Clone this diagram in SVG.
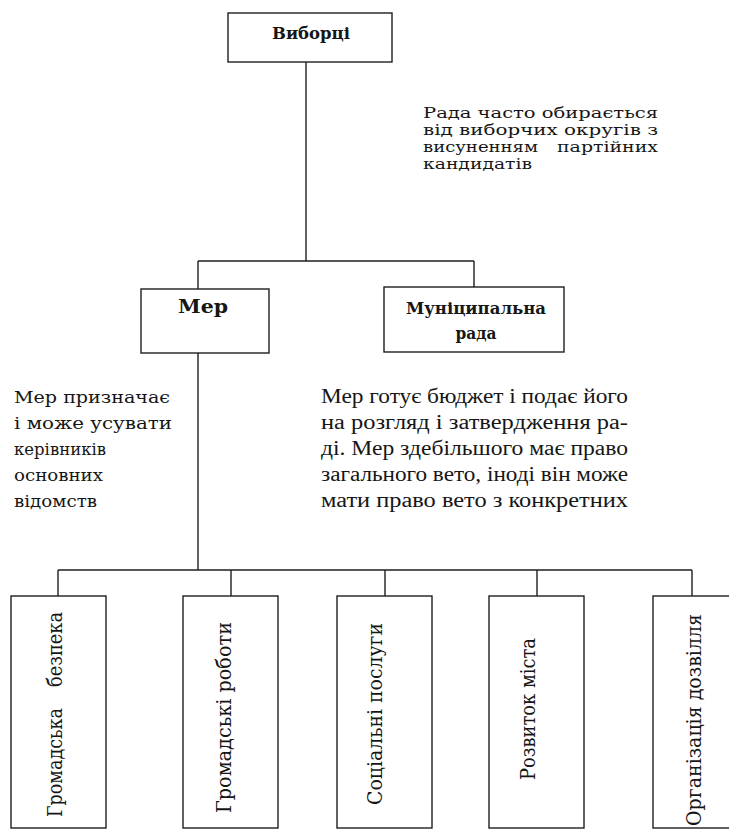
<svg xmlns="http://www.w3.org/2000/svg" width="729" height="830" viewBox="0 0 729 830">
<style>
.box{fill:#fff;stroke:#1e1e1e;stroke-width:1.4}
.ln{stroke:#1e1e1e;stroke-width:1.4;fill:none}
.t{font-family:"DejaVu Serif","Liberation Serif",serif;fill:#161616}
.tb{font-family:"DejaVu Serif","Liberation Serif",serif;font-weight:bold;fill:#161616}
.tr{font-family:"Liberation Serif","DejaVu Serif",serif;fill:#161616}
.v{font-family:"DejaVu Serif","Liberation Serif",serif;fill:#161616;font-size:20px}
</style>
<rect width="729" height="830" fill="#fff"/>
<g id="connectors" class="ln">
<path d="M306,62 V261"/>
<path d="M198,261 H474"/>
<path d="M198,261 V289"/>
<path d="M474,261 V287"/>
<path d="M198,353 V570"/>
<path d="M58,570 H692"/>
<path d="M58,570 V596"/>
<path d="M231,570 V596"/>
<path d="M385,570 V596"/>
<path d="M537,570 V596"/>
<path d="M692,570 V596"/>
</g>
<g id="vybortsi">
<rect class="box" x="228" y="13" width="164" height="49"/>
<text class="tb" x="311" y="39" font-size="17" text-anchor="middle" textLength="78" lengthAdjust="spacingAndGlyphs">Виборці</text>
</g>
<g id="note-rada">
<text class="t" font-size="14" x="423" y="118" textLength="235" lengthAdjust="spacingAndGlyphs">Рада часто обирається</text>
<text class="t" font-size="14" x="423" y="135" textLength="235" lengthAdjust="spacingAndGlyphs">від виборчих округів з</text>
<text class="t" font-size="14" x="423" y="152" textLength="115" lengthAdjust="spacingAndGlyphs">висуненням</text>
<text class="t" font-size="14" x="557" y="152" textLength="101" lengthAdjust="spacingAndGlyphs">партійних</text>
<text class="t" font-size="14" x="423" y="169" textLength="109" lengthAdjust="spacingAndGlyphs">кандидатів</text>
</g>
<g id="mer">
<rect class="box" x="141" y="289" width="128" height="64"/>
<text class="tb" x="203" y="313" font-size="18" text-anchor="middle" textLength="50" lengthAdjust="spacingAndGlyphs">Мер</text>
</g>
<g id="munrada">
<rect class="box" x="384" y="287" width="180" height="65"/>
<text class="tb" x="476" y="314" font-size="17" text-anchor="middle" textLength="140" lengthAdjust="spacingAndGlyphs">Муніципальна</text>
<text class="tb" x="476" y="339" font-size="17" text-anchor="middle" textLength="41" lengthAdjust="spacingAndGlyphs">рада</text>
</g>
<g id="note-mer">
<text class="t" font-size="17" x="14" y="403" textLength="156" lengthAdjust="spacingAndGlyphs">Мер призначає</text>
<text class="t" font-size="17" x="14" y="429" textLength="158" lengthAdjust="spacingAndGlyphs">і може усувати</text>
<text class="t" font-size="17" x="14" y="455" textLength="92" lengthAdjust="spacingAndGlyphs">керівників</text>
<text class="t" font-size="17" x="14" y="481" textLength="89" lengthAdjust="spacingAndGlyphs">основних</text>
<text class="t" font-size="17" x="14" y="507" textLength="83" lengthAdjust="spacingAndGlyphs">відомств</text>
</g>
<g id="note-budget">
<text class="tr" font-size="20" x="321" y="403" textLength="307" lengthAdjust="spacingAndGlyphs">Мер готує бюджет і подає його</text>
<text class="tr" font-size="20" x="321" y="429" textLength="307" lengthAdjust="spacingAndGlyphs">на розгляд і затвердження ра-</text>
<text class="tr" font-size="20" x="321" y="455" textLength="307" lengthAdjust="spacingAndGlyphs">ді. Мер здебільшого має право</text>
<text class="tr" font-size="20" x="321" y="481" textLength="307" lengthAdjust="spacingAndGlyphs">загального вето, іноді він може</text>
<text class="tr" font-size="20" x="321" y="507" textLength="307" lengthAdjust="spacingAndGlyphs">мати право вето з конкретних</text>
</g>
<g id="dept1">
<rect class="box" x="11" y="596" width="95" height="232"/>
<text class="v" transform="translate(62,817) rotate(-90)" textLength="109" lengthAdjust="spacingAndGlyphs">Громадська</text>
<text class="v" transform="translate(62,687) rotate(-90)" textLength="75" lengthAdjust="spacingAndGlyphs">безпека</text>
</g>
<g id="dept2">
<rect class="box" x="183" y="596" width="95" height="232"/>
<text class="v" transform="translate(231,813) rotate(-90)" textLength="191" lengthAdjust="spacingAndGlyphs">Громадські роботи</text>
</g>
<g id="dept3">
<rect class="box" x="337" y="596" width="95" height="232"/>
<text class="v" transform="translate(382,805) rotate(-90)" textLength="182" lengthAdjust="spacingAndGlyphs">Соціальні послуги</text>
</g>
<g id="dept4">
<rect class="box" x="489" y="596" width="95" height="232"/>
<text class="v" transform="translate(535,780) rotate(-90)" textLength="142" lengthAdjust="spacingAndGlyphs">Розвиток міста</text>
</g>
<g id="dept5">
<rect class="box" x="653" y="596" width="80" height="232"/>
<text class="v" transform="translate(701,826) rotate(-90)" textLength="212" lengthAdjust="spacingAndGlyphs">Організація дозвілля</text>
</g>
</svg>
